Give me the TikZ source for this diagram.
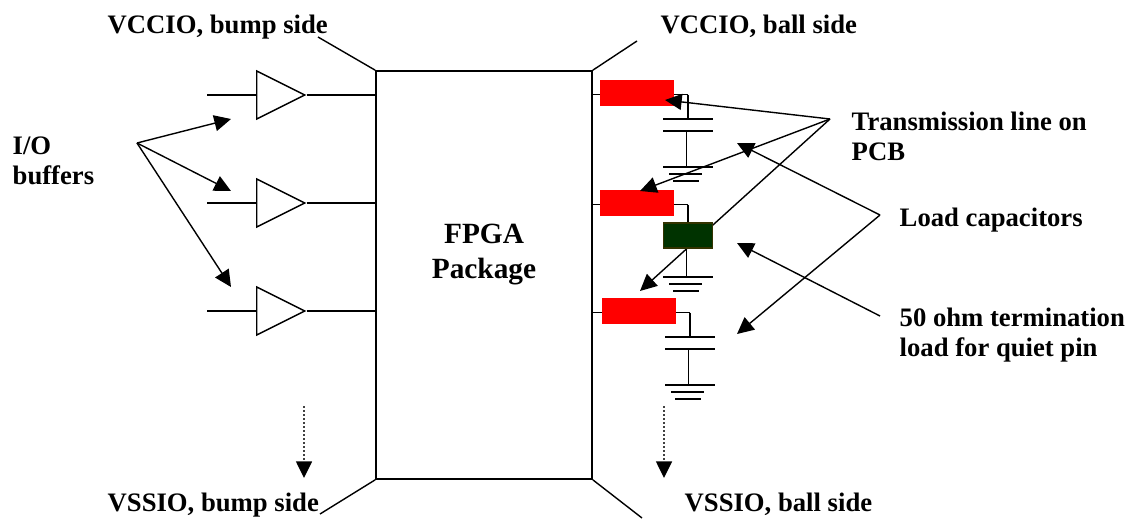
\documentclass[tikz,border=0pt]{standalone}
\usepackage{fontspec}
\setmainfont{Liberation Serif}
\usetikzlibrary{arrows.meta,shapes.geometric}
\tikzstyle{buf}=[shape=isosceles triangle, isosceles triangle stretches, shape border rotate=0, minimum width=36pt, minimum height=36pt, inner sep=0, draw, anchor=lower side]
\tikzstyle{pkg}=[shape=rectangle, minimum width=162pt, minimum height=306pt, inner sep=0, draw, line width=1.25pt]
\tikzstyle{tline}=[shape=rectangle, minimum width=55.5pt, minimum height=19.5pt, inner sep=0, fill=red]
\tikzstyle{qload}=[shape=rectangle, minimum width=37pt, minimum height=18.5pt, inner sep=0, fill={rgb,255:red,0;green,51;blue,0}, draw={rgb,255:red,51;green,51;blue,0}]
\tikzstyle{lab}=[inner sep=0, anchor=base west, align=left, font=\fontsize{20}{22.5}\selectfont\bfseries]
\tikzstyle{arr}=[-{Triangle[length=12.5pt,width=12pt,black]}]
\begin{document}
\begin{tikzpicture}[x=0.75pt,y=-0.75pt,line width=1.05pt]
\useasboundingbox (0,0) rectangle (1130,518);
\node[pkg](pkg) at (484,275){};
\node[lab,anchor=base,align=center,font=\fontsize{22}{26}\selectfont\bfseries](pkgtxt) at (484,278){FPGA\\Package};
% corner stubs
\coordinate (s1) at (318,37);
\coordinate (s2) at (637,41);
\coordinate (s3) at (320,514);
\coordinate (s4) at (642,518);
\draw (pkg.north west)--(s1);
\draw (pkg.north east)--(s2);
\draw (pkg.south west)--(s3);
\draw (pkg.south east)--(s4);
% buffers
\foreach \x/\y in {1/95,2/203,3/311}{
\node[buf](buf\x) at (256,\y){};
\coordinate (in\x) at (207,\y);
\draw (in\x)--(buf\x.lower side);
\draw (buf\x.apex)--(buf\x.apex -| pkg.west);
}
% wires, capacitors and grounds
\foreach \x/\cx/\wy in {1/688/94.5,2/688/204.7,3/690/312.7}{
\coordinate (w\x) at (\cx,\wy);
\draw (w\x -| pkg.east)--(w\x);
}
\draw (w1)--(688,119);
\draw (w3)--(690,337);
\foreach \cx/\py in {688/119,688/131,690/337,690/349}{\draw (\cx-25,\py)--(\cx+25,\py);}
\draw (686.5,131)--(686.5,167);
\draw (688.7,349)--(688.7,385);
\foreach \cx/\gy in {688/167,688/277,690/385}{
\draw (\cx-25,\gy)--(\cx+25,\gy);
\draw (\cx-19,\gy+7)--(\cx+14,\gy+7);
\draw (\cx-15,\gy+14)--(\cx+11,\gy+14);
}
\coordinate (tls) at (830,119);
\coordinate (tlc) at (640,291);
\draw[arr] (tls)--(tlc);
\draw (w2)--(688,223);
\draw (686.5,248)--(686.5,277);
\node[qload](qload) at (688,235.5){};
\node[tline](tl1) at (637,93){};
\node[tline](tl2) at (637,203){};
\node[tline](tl3) at (639,311){};
% callout arrows
\coordinate (ios) at (137,143);
\coordinate (ioa) at (231,119);
\coordinate (iob) at (231,191);
\coordinate (ioc) at (231,287);
\draw[arr] (ios)--(ioa);
\draw[arr] (ios)--(iob);
\draw[arr] (ios)--(ioc);
\coordinate (tla) at (665,100);
\coordinate (tlb) at (640,191);
\draw[arr] (tls)--(tla);
\draw[arr] (tls)--(tlb);
\coordinate (lcs) at (880,215);
\coordinate (lca) at (737,143);
\coordinate (lcb) at (737,334);
\draw[arr] (lcs)--(lca);
\draw[arr] (lcs)--(lcb);
\coordinate (qls) at (880,316);
\coordinate (qla) at (737,243);
\draw[arr] (qls)--(qla);
% dotted continuation
\coordinate (d1a) at (304,406);
\coordinate (d1b) at (304,478);
\coordinate (d2a) at (664,406);
\coordinate (d2b) at (664,478);
\draw[arr,black!75,dash pattern=on 1.2pt off 1.8pt,line width=1.1pt] (d1a)--(d1b);
\draw[arr,black!75,dash pattern=on 1.2pt off 1.8pt,line width=1.1pt] (d2a)--(d2b);
% labels
\node[lab](vccb) at (107,33){VCCIO, bump side};
\node[lab](vcco) at (660,33){VCCIO, ball side};
\node[lab](vssb) at (107,511){VSSIO, bump side};
\node[lab](vsso) at (684,511){VSSIO, ball side};
\node[lab](iotxt) at (12,184){I/O\\buffers};
\node[lab](tltxt) at (851,160.6){Transmission line on\\PCB};
\node[lab](lctxt) at (899,226){Load capacitors};
\node[lab](qltxt) at (899,356.7){50 ohm termination\\load for quiet pin};
\end{tikzpicture}
\end{document}
